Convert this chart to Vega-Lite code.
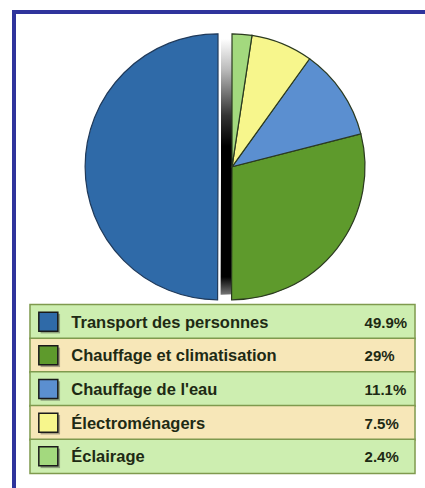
{
  "$schema": "https://vega.github.io/schema/vega-lite/v6.json",
  "width": 425,
  "height": 488,
  "autosize": {"type": "fit", "contains": "padding"},
  "padding": {"left": 14, "top": 12, "right": 0, "bottom": 0},
  "background": "white",
  "config": {
    "view": {"stroke": "#2f349c", "strokeWidth": 4, "fill": "white", "strokeDash": [411, 887, 476]}
  },
  "data": {
    "values": [
      {"row": 0, "item": "Transport des personnes", "value": 0.499},
      {"row": 1, "item": "Chauffage et climatisation", "value": 0.29},
      {"row": 2, "item": "Chauffage de l'eau", "value": 0.111},
      {"row": 3, "item": "Électroménagers", "value": 0.075},
      {"row": 4, "item": "Éclairage", "value": 0.024}
    ]
  },
  "transform": [
    {"stack": "value", "groupby": [], "sort": [{"field": "row", "order": "descending"}], "as": ["s0", "s1"]}
  ],
  "layer": [
    {
      "transform": [
        {"filter": "datum.row != 0"},
        {"aggregate": [{"op": "min", "field": "s0", "as": "a0"}, {"op": "max", "field": "s1", "as": "a1"}]}
      ],
      "mark": {"type": "arc", "outerRadius": 128, "xOffset": -4,
        "fill": {"gradient": "linear", "x1": 0, "y1": 0, "x2": 0, "y2": 1,
                 "stops": [{"offset": 0, "color": "#ffffff"}, {"offset": 0.12, "color": "#bbbbbb"}, {"offset": 0.3, "color": "#333333"}, {"offset": 0.42, "color": "#000000"}, {"offset": 0.93, "color": "#000000"}, {"offset": 1, "color": "#777777"}]}},
      "encoding": {
        "x": {"datum": 51.34, "type": "quantitative", "scale": {"domain": [0, 100], "nice": false, "zero": false}, "axis": null},
        "y": {"datum": -4.599, "type": "quantitative", "scale": {"domain": [-9.047, 4.791], "nice": false, "zero": false, "reverse": true}, "axis": null},
        "theta": {"field": "a0", "type": "quantitative", "scale": {"domain": [0, 0.999]}},
        "theta2": {"field": "a1"}
      }
    },
    {
      "transform": [{"filter": "datum.row != 0"}],
      "mark": {"type": "arc", "outerRadius": 133, "xOffset": 7, "stroke": "#2b3a20", "strokeWidth": 1.2},
      "encoding": {
        "x": {"datum": 51.34, "type": "quantitative", "axis": null},
        "y": {"datum": -4.599, "type": "quantitative", "axis": null},
        "theta": {"field": "s0", "type": "quantitative"},
        "theta2": {"field": "s1"},
        "color": {"field": "item", "type": "nominal", "legend": null,
          "scale": {"domain": ["Transport des personnes", "Chauffage et climatisation", "Chauffage de l'eau", "Électroménagers", "Éclairage"],
                    "range": ["#2f6aa8", "#5e9a2c", "#5b8fd0", "#f7f68c", "#a3d97e"]}}
      }
    },
    {
      "transform": [{"filter": "datum.row == 0"}],
      "mark": {"type": "arc", "outerRadius": 133, "xOffset": -7, "stroke": "#203a5a", "strokeWidth": 1.2},
      "encoding": {
        "x": {"datum": 51.34, "type": "quantitative", "axis": null},
        "y": {"datum": -4.599, "type": "quantitative", "axis": null},
        "theta": {"field": "s0", "type": "quantitative"},
        "theta2": {"field": "s1"},
        "color": {"field": "item", "type": "nominal", "legend": null}
      }
    },
    {
      "mark": {"type": "bar", "orient": "horizontal", "size": 34.4, "stroke": "#7f9a4e", "strokeWidth": 1.5},
      "encoding": {
        "x": {"datum": 3.89, "type": "quantitative", "axis": null},
        "x2": {"datum": 97.57},
        "y": {"field": "row", "type": "quantitative", "axis": null},
        "fill": {"condition": {"test": "datum.row % 2 === 0", "value": "#cdeeb0"}, "value": "#f7e7b8"}
      }
    },
    {
      "mark": {"type": "square", "size": 380, "filled": true, "fill": "#333333", "opacity": 0.4, "xOffset": 2, "yOffset": 2},
      "encoding": {
        "x": {"datum": 8.35, "type": "quantitative", "axis": null},
        "y": {"field": "row", "type": "quantitative", "axis": null}
      }
    },
    {
      "mark": {"type": "square", "size": 361, "filled": true, "opacity": 1, "stroke": "#1a1a1a", "strokeWidth": 1.5},
      "encoding": {
        "x": {"datum": 8.35, "type": "quantitative", "axis": null},
        "y": {"field": "row", "type": "quantitative", "axis": null},
        "color": {"field": "item", "type": "nominal", "legend": null}
      }
    },
    {
      "mark": {"type": "text", "align": "left", "baseline": "middle", "font": "Liberation Sans", "fontWeight": "bold", "fontSize": 16.5, "fill": "#1e2a14", "dy": 1},
      "encoding": {
        "x": {"datum": 13.94, "type": "quantitative", "axis": null},
        "y": {"field": "row", "type": "quantitative", "axis": null},
        "text": {"field": "item"}
      }
    },
    {
      "mark": {"type": "text", "align": "left", "baseline": "middle", "font": "Liberation Sans", "fontWeight": "bold", "fontSize": 15, "fill": "#1e2a14", "dy": 1},
      "encoding": {
        "x": {"datum": 85.3, "type": "quantitative", "axis": null},
        "y": {"field": "row", "type": "quantitative", "axis": null},
        "text": {"field": "value", "type": "quantitative", "format": ".1~%"}
      }
    }
  ]
}
